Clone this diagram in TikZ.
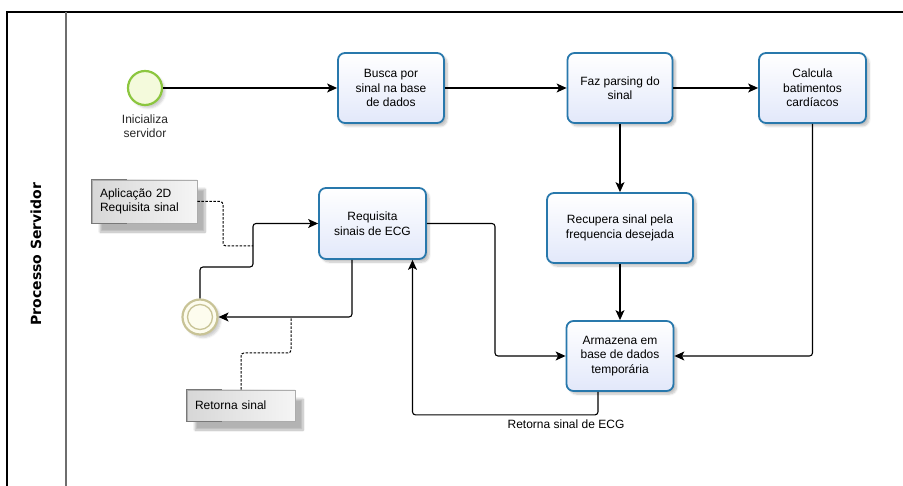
\documentclass[tikz,border=0pt]{standalone}
\usepackage{fontspec}
\setmainfont{Liberation Sans}
\newfontfamily\lanefont{DejaVu Sans}
\usetikzlibrary{arrows.meta,shadows.blur,calc}
\definecolor{taskline}{RGB}{40,120,172}
\definecolor{taskbot}{RGB}{226,232,250}
\definecolor{startline}{RGB}{140,198,63}
\definecolor{startfill}{RGB}{244,250,220}
\definecolor{endline}{RGB}{200,195,150}
\definecolor{endfill}{RGB}{253,252,238}
\definecolor{lanesep}{RGB}{110,110,110}
\definecolor{notedark}{RGB}{215,215,215}
\definecolor{notelight}{RGB}{245,245,245}
\definecolor{noteedge}{RGB}{120,120,120}
\begin{document}
\begin{tikzpicture}[x=1pt,y=-1pt,
  font=\fontsize{12}{14.5}\selectfont,
  task/.style={draw=taskline, line width=1.8pt, rounded corners=7pt,
    top color=white, bottom color=taskbot, align=center, inner sep=0pt,
    blur shadow={shadow xshift=3pt, shadow yshift=-3pt,
      shadow blur steps=6, shadow opacity=25}},
  flow/.style={draw=black, line width=1.1pt, rounded corners=3pt,
    -{Stealth[length=10pt,width=9pt,inset=2.5pt]}},
  assoc/.style={draw=black, line width=1pt,
    dash pattern=on 2.5pt off 1.5pt, rounded corners=3pt},
  note/.style={draw=notedark!80!black, line width=0.5pt,
    left color=notedark, right color=notelight, align=left,
    inner xsep=8pt, inner ysep=0pt,
    blur shadow={shadow xshift=8pt, shadow yshift=-9pt,
      shadow blur steps=8, shadow opacity=30}},
  startev/.style={circle, draw=startline, line width=2.2pt, fill=startfill,
    minimum size=34pt, inner sep=0pt,
    blur shadow={shadow xshift=3pt, shadow yshift=-3pt, shadow opacity=20}},
  endev/.style={circle, draw=endline, line width=2.2pt, fill=endfill,
    minimum size=35pt, inner sep=0pt,
    blur shadow={shadow xshift=3pt, shadow yshift=-3pt, shadow opacity=20}},
  lanelabel/.style={rotate=90, font=\lanefont\bfseries\fontsize{14}{16}\selectfont}
]
\useasboundingbox (0,0) rectangle (903,486);

% pool frame and lane header
\draw[black, line width=1.3pt] (7,486) -- (7,12) -- (903,12);
\draw[lanesep, line width=1.6pt] (66,12) -- (66,486);
\node[lanelabel] (lane) at (36,254) {Processo Servidor};

% events
\node[startev] (start) at (145,88) {};
\node[align=center, text=black!85] (startlbl) at (145,126) {Inicializa\\servidor};
\node[endev] (end) at (200,317) {};
\draw[endline, line width=1.3pt] (end.center) circle (12.5pt);

% tasks
\node[task, minimum width=106pt, minimum height=70pt] (busca) at (391,88)
  {Busca por\\sinal na base\\de dados};
\node[task, minimum width=105pt, minimum height=70pt] (faz) at (620,88)
  {Faz parsing do\\sinal};
\node[task, minimum width=107pt, minimum height=70pt] (calc) at (812.5,88)
  {Calcula\\batimentos\\cardíacos};
\node[task, minimum width=146pt, minimum height=70pt] (recupera) at (620,228)
  {Recupera sinal pela\\frequencia desejada};
\node[task, minimum width=107pt, minimum height=70pt] (armazena) at (620,356)
  {Armazena em\\base de dados\\temporária};
\node[task, minimum width=107pt, minimum height=71pt] (requisita) at (372.5,223.5)
  {Requisita\\sinais de ECG};

% text annotations
\node[note, text width=89pt, minimum height=43pt] (a1) at (144.5,201.5)
  {Aplicação 2D\\Requisita sinal};
\draw[noteedge, line width=1pt] ($(a1.north west)+(35,0)$) -- (a1.north west)
  -- (a1.south west) -- ++(35,0);
\node[note, text width=92pt, minimum height=31pt] (a2) at (241,405.5)
  {Retorna sinal};
\draw[noteedge, line width=1pt] ($(a2.north west)+(35,0)$) -- (a2.north west)
  -- (a2.south west) -- ++(35,0);

% bend points
\coordinate (jA) at (495,356);
\coordinate (jC) at (253,267);
\coordinate (a1bend) at (223,246);
\coordinate (a1end) at (253,246);
\coordinate (a2bend) at (241,353);
\coordinate (a2end) at (291,317);

% sequence flows
\draw[flow] (start) -- (busca);
\draw[flow] (busca) -- (faz);
\draw[flow] (faz) -- (calc);
\draw[flow] (faz.south) -- (recupera.north);
\draw[flow] (recupera.south) -- (armazena.north);
\draw[flow] (calc.south) |- (armazena.east);
\draw[flow] (requisita.east) -| (jA) -- (armazena.west);
\draw[flow] ([xshift=-22pt]armazena.south) -- ++(0,23)
  -| ([xshift=40pt]requisita.south);
\node (retlbl) at (566,424) {Retorna sinal de ECG};
\draw[flow] ([xshift=-20.5pt]requisita.south) |- (end.east);
\draw[flow] (end.north) |- (jC) |- (requisita.west);

% associations
\draw[assoc] (a1.east) -| (a1bend) -- (a1end);
\draw[assoc] (a2.north) -- (a2bend) -| (a2end);
\end{tikzpicture}
\end{document}
